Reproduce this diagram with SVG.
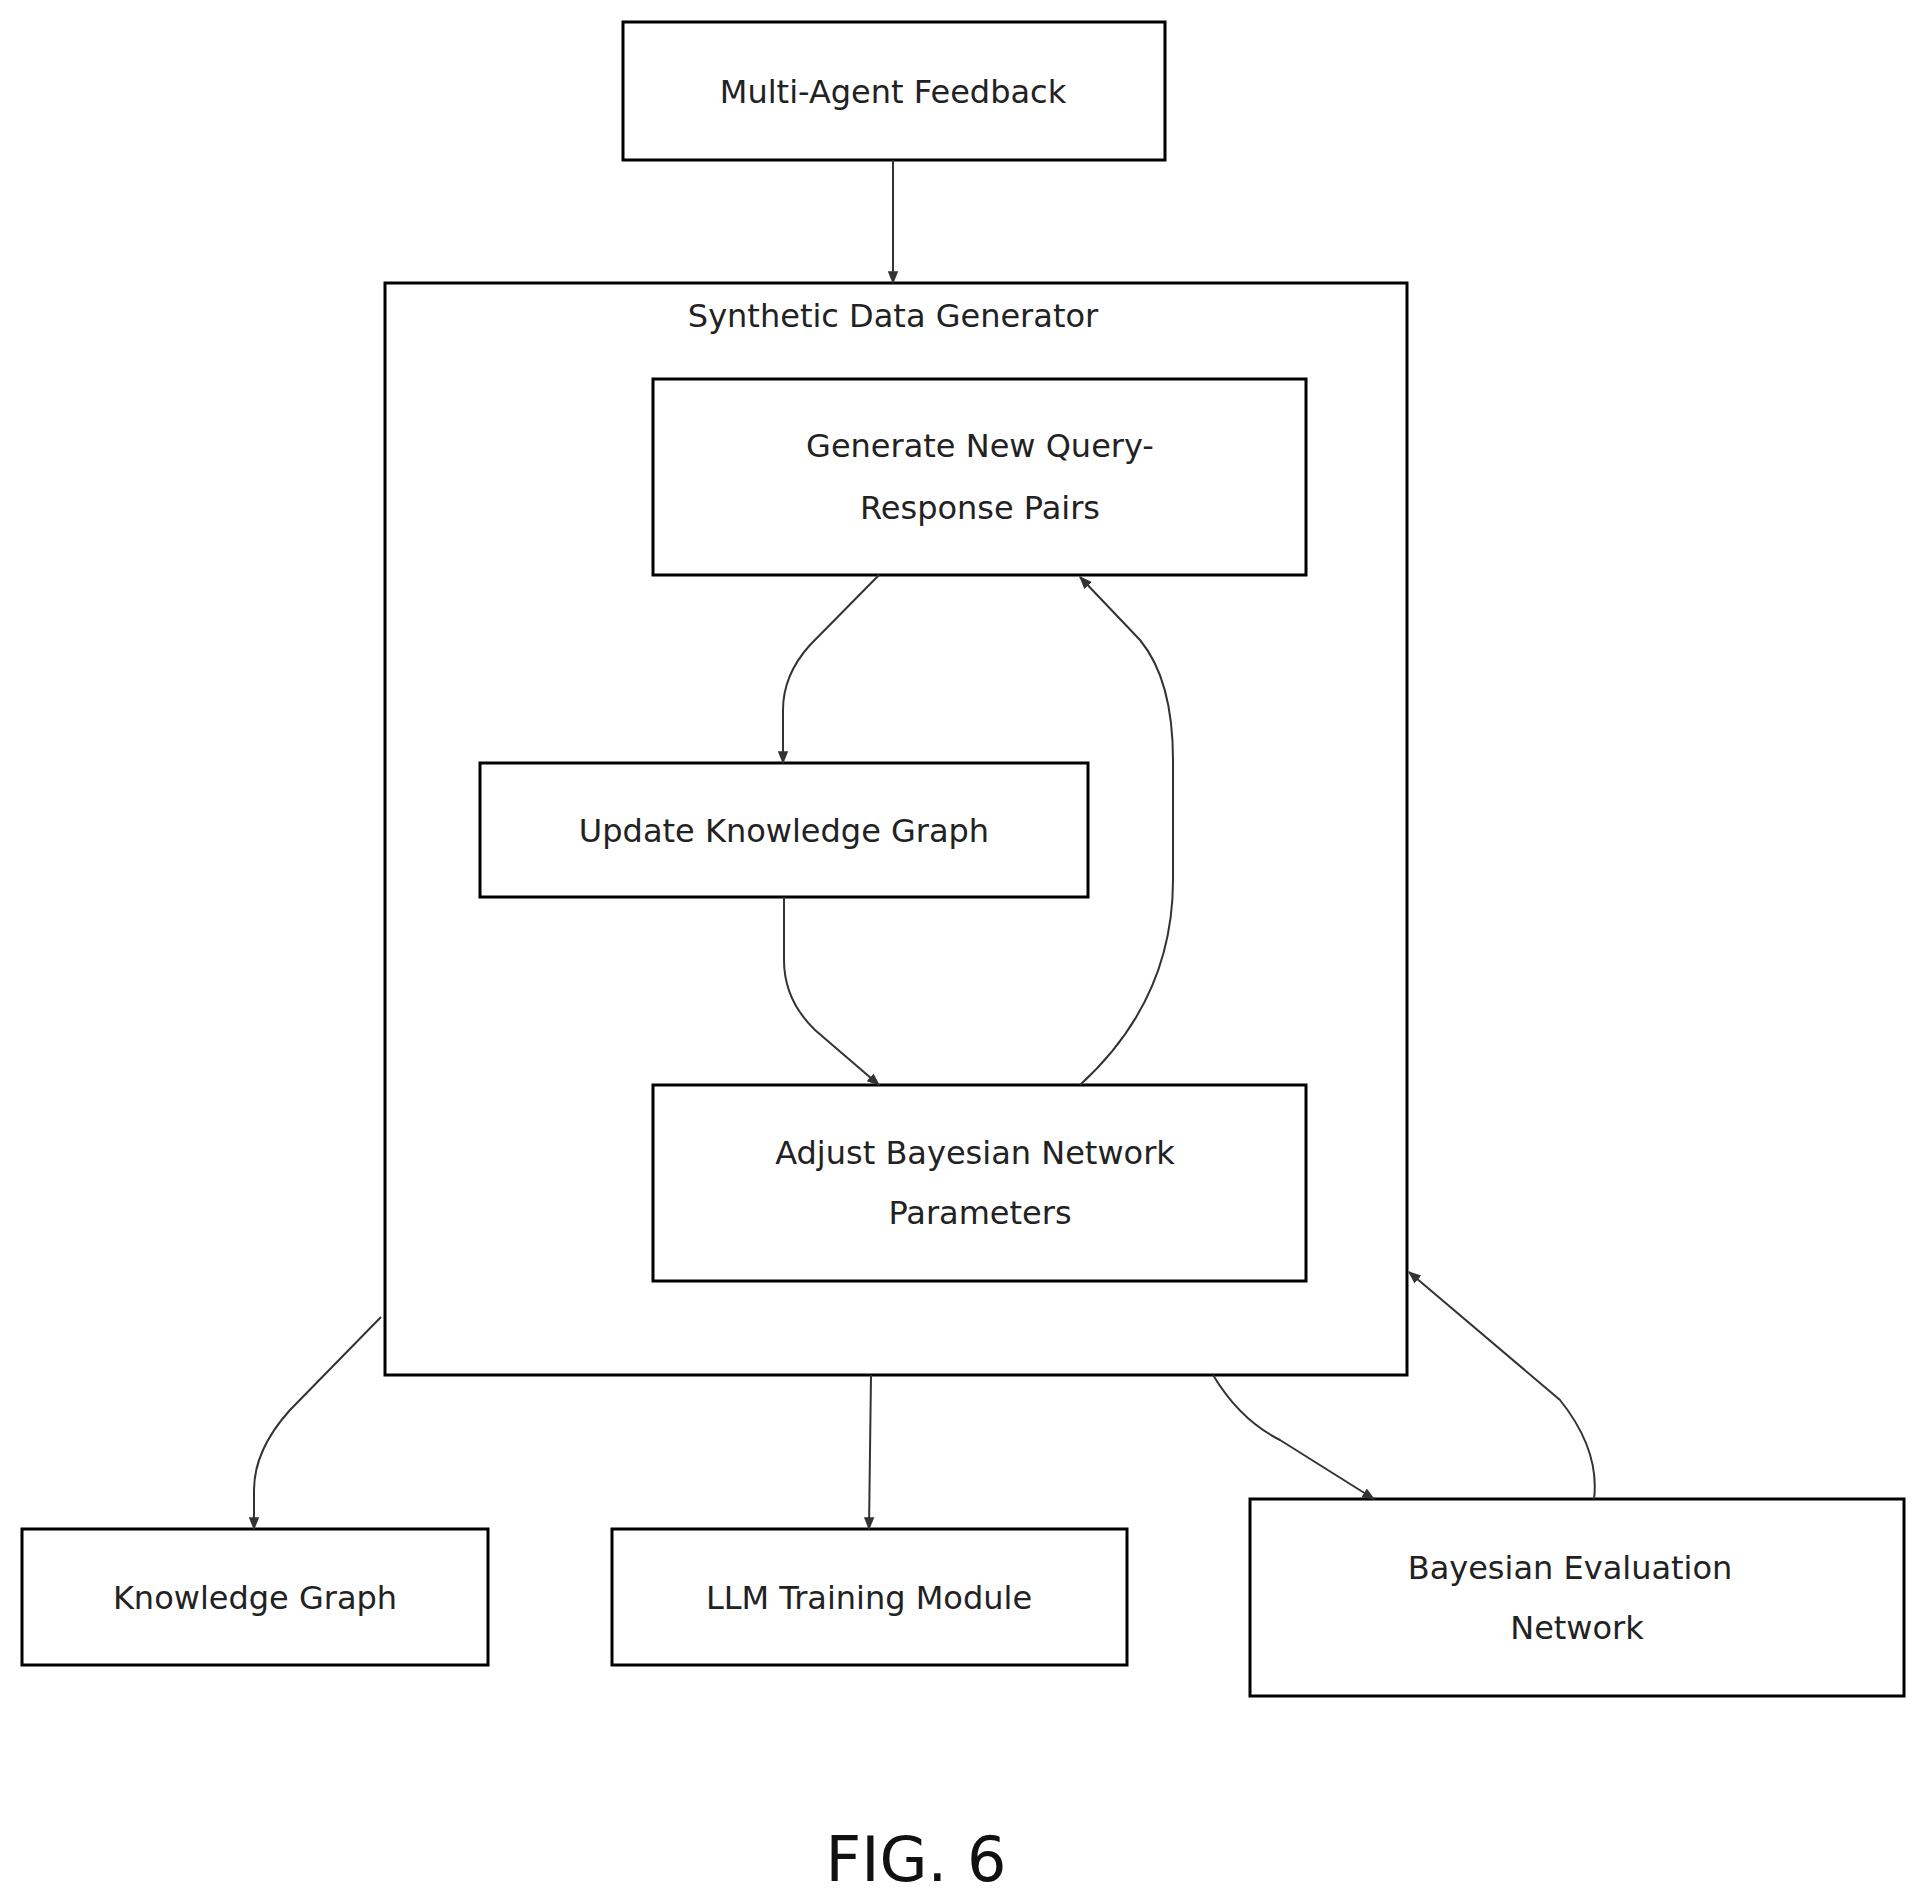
<svg xmlns="http://www.w3.org/2000/svg" width="1917" height="1895" viewBox="0 0 1917 1895">
<style>
.b{fill:#fff;stroke:#000;stroke-width:3}
.t{font-family:"DejaVu Sans",sans-serif;font-size:32px;fill:#222;text-anchor:middle}
.c{fill:none;stroke:#333;stroke-width:2;marker-end:url(#a)}
</style>
<defs><marker id="a" viewBox="0 0 10 10" refX="9" refY="5" markerWidth="13" markerHeight="13" orient="auto-start-reverse" markerUnits="userSpaceOnUse" ><path d="M0,1L10,5L0,9z" fill="#333"/></marker></defs>
<rect width="1917" height="1895" fill="#fff"/>
<g id="sdg"><rect class="b" x="385" y="283" width="1022" height="1092"/><text class="t" x="893" y="327">Synthetic Data Generator</text></g>
<g id="maf"><rect class="b" x="623" y="22" width="542" height="138"/><text class="t" x="893" y="103">Multi-Agent Feedback</text></g>
<g id="gen"><rect class="b" x="653" y="379" width="653" height="196"/><text class="t" x="980" y="457">Generate New Query-</text><text class="t" x="980" y="519">Response Pairs</text></g>
<g id="ukg"><rect class="b" x="480" y="763" width="608" height="134"/><text class="t" x="784" y="842">Update Knowledge Graph</text></g>
<g id="adj"><rect class="b" x="653" y="1085" width="653" height="196"/><text class="t" x="975" y="1164">Adjust Bayesian Network</text><text class="t" x="980" y="1224">Parameters</text></g>
<g id="kg"><rect class="b" x="22" y="1529" width="466" height="136"/><text class="t" x="255" y="1609">Knowledge Graph</text></g>
<g id="llm"><rect class="b" x="612" y="1529" width="515" height="136"/><text class="t" x="869" y="1609">LLM Training Module</text></g>
<g id="ben"><rect class="b" x="1250" y="1499" width="654" height="197"/><text class="t" x="1570" y="1579">Bayesian Evaluation</text><text class="t" x="1577" y="1639">Network</text></g>
<g id="connectors">
<path class="c" d="M893,160L893,283"/>
<path class="c" d="M879,575L810,645Q783,675 783,710L783,763"/>
<path class="c" d="M784,897L784,960Q784,1000 815,1030L879,1085"/>
<path class="c" d="M1080,1085Q1173,1000 1173,880L1173,760Q1173,680 1140,640L1080,577"/>
<path class="c" d="M381,1317L290,1410Q254,1450 254,1490L254,1529"/>
<path class="c" d="M871,1375L869,1529"/>
<path class="c" d="M1213,1375Q1240,1420 1280,1440L1374,1499"/>
<path class="c" d="M1594,1499Q1600,1450 1560,1400L1409,1272"/>
</g>
<text x="916" y="1881" style="font-family:'DejaVu Sans',sans-serif;font-size:62px;fill:#111;text-anchor:middle">FIG. 6</text>
</svg>
